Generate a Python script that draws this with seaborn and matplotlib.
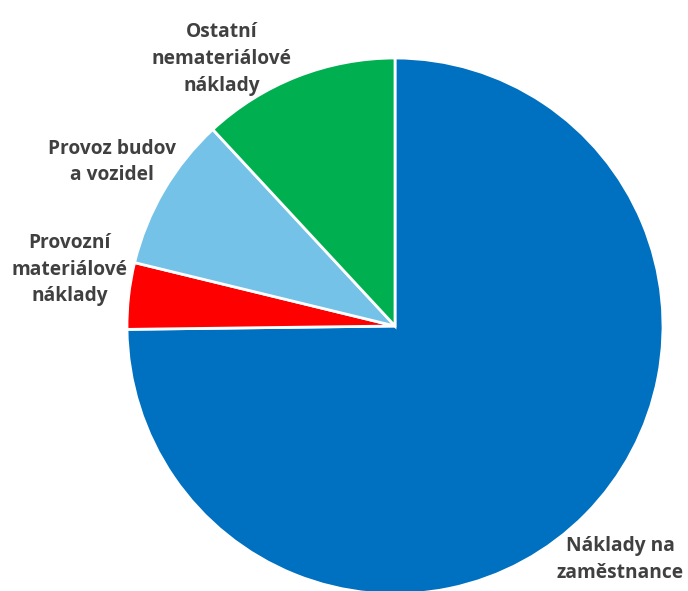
import matplotlib
matplotlib.use("Agg")
import matplotlib.pyplot as plt
import seaborn as sns

# data (share of costs, %)
labels = ["Náklady na\nzaměstnance", "Provozní\nmateriálové\nnáklady",
          "Provoz budov\na vozidel", "Ostatní\nnemateriálové\nnáklady"]
values = [74.8, 4.0, 9.3, 11.9]
colors = ["#0070C0", "#FF0000", "#75C2E8", "#00B050"]

sns.set_theme(style="white")
plt.rcParams['font.family'] = ['Open Sans', 'DejaVu Sans']

fig = plt.figure(figsize=(6.88, 5.91), dpi=100)
# pie centre ~ (395, 326) px, radius ~268 px
ax = fig.add_axes([127 / 688, -3 / 591, 536 / 688, 536 / 591])
ax.pie(values, colors=colors, startangle=90, counterclock=False,
       wedgeprops=dict(edgecolor="white", linewidth=2))
ax.set_xlim(-1, 1)
ax.set_ylim(-1, 1)
ax.axis("off")

# label positions (in pie radius units)
label_pos = [(0.84, -0.87), (-1.215, 0.21), (-1.056, 0.612), (-0.646, 0.996)]
for lab, (x, y) in zip(labels, label_pos):
    ax.text(x, y, lab, ha="center", va="center", fontsize=13.8,
            fontweight="bold", color="#404040", linespacing=1.45,
            clip_on=False)

fig.savefig("out.png", dpi=100)
